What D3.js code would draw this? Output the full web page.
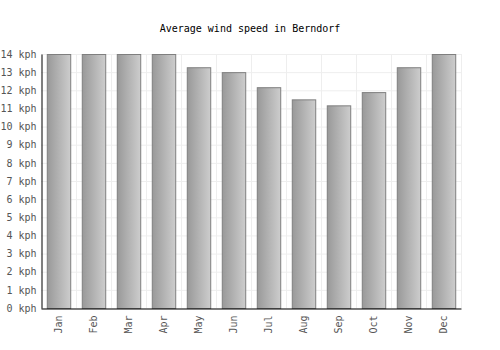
<!DOCTYPE html>
<html>
<head>
<meta charset="utf-8">
<script src="https://cdn.jsdelivr.net/npm/d3@7"></script>
<style>
    body { margin: 0; background: #fff; }
    text { font-family: "DejaVu Sans Mono", monospace; }
</style>
</head>
<body>
<svg id="chart"></svg>
<script>
const months = ["Jan", "Feb", "Mar", "Apr", "May", "Jun", "Jul", "Aug", "Sep", "Oct", "Nov", "Dec"];
const windSpeed = [14, 14, 14, 14, 13.27, 13.0, 12.17, 11.5, 11.17, 11.9, 13.27, 14];
const yTicks = d3.range(0, 15);

const config = {
    width: 500,
    height: 350,
    left: 41,
    right: 461,
    top: 54,
    bottom: 308
};

const svg = d3.select("#chart")
    .attr("width", config.width)
    .attr("height", config.height);

const x = d3.scaleBand().domain(months).range([config.left, config.right]).paddingInner(0.33).paddingOuter(0.165);
const xGrid = d3.scaleBand().domain(months).range([config.left, config.right]);
const y = d3.scaleLinear().domain([0, 14]).range([config.bottom, config.top]);

const grad = svg.append("defs").append("linearGradient")
    .attr("id", "barGrad")
    .attr("x1", "0%").attr("x2", "100%").attr("y1", "0%").attr("y2", "0%");
grad.append("stop").attr("offset", "0%").attr("stop-color", "#999999");
grad.append("stop").attr("offset", "100%").attr("stop-color", "#cdcdcd");

// grid
svg.append("g")
    .selectAll("line.h")
    .data(yTicks)
    .join("line")
    .attr("x1", config.left).attr("x2", config.right)
    .attr("y1", d => y(d) + 0.5).attr("y2", d => y(d) + 0.5)
    .attr("stroke", "#eeeeee");

svg.append("g")
    .selectAll("line.v")
    .data(months)
    .join("line")
    .attr("x1", d => xGrid(d) + xGrid.bandwidth() + 0.5)
    .attr("x2", d => xGrid(d) + xGrid.bandwidth() + 0.5)
    .attr("y1", config.top).attr("y2", config.bottom)
    .attr("stroke", "#eeeeee");

// bars
svg.append("g")
    .selectAll("rect")
    .data(windSpeed)
    .join("rect")
    .attr("x", (d, i) => x(months[i]) + 0.5)
    .attr("y", d => y(d) + 0.5)
    .attr("width", x.bandwidth())
    .attr("height", d => y(0) - y(d))
    .attr("fill", "url(#barGrad)")
    .attr("stroke", "#7f7f7f")
    .attr("stroke-width", 1);

const yAxis = d3.axisLeft(y).tickValues(yTicks).tickSize(0).tickPadding(5).tickFormat(d => d + " kph");
svg.append("g")
    .attr("transform", `translate(${config.left + 0.5}, 0)`)
    .call(yAxis)
    .call(g => g.select(".domain").attr("stroke", "#000"))
    .call(g => g.selectAll("text").attr("fill", "#555").attr("font-size", 10).attr("font-family", "DejaVu Sans Mono, monospace"));

const xAxis = d3.axisBottom(x).tickSize(0).tickSizeOuter(0);
svg.append("g")
    .attr("transform", `translate(0, ${config.bottom + 0.5})`)
    .call(xAxis)
    .call(g => g.select(".domain").attr("stroke", "#000"))
    .call(g => g.selectAll("text")
        .attr("fill", "#555")
        .attr("font-size", 10)
        .attr("font-family", "DejaVu Sans Mono, monospace")
        .attr("text-anchor", "end")
        .attr("dy", "0.35em")
        .attr("transform", "translate(0, 7) rotate(-90)")
        .attr("x", 0).attr("y", 0));

svg.append("text")
    .attr("x", config.width / 2)
    .attr("y", 32)
    .attr("text-anchor", "middle")
    .attr("font-size", 10)
    .attr("fill", "#000")
    .text("Average wind speed in Berndorf");
</script>
</body>
</html>
